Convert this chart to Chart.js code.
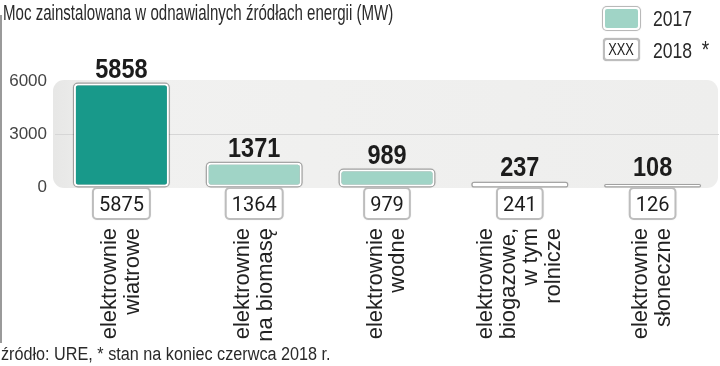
<!DOCTYPE html>
<html>
<head>
<meta charset="utf-8">
<script src="https://cdn.jsdelivr.net/npm/chart.js@4"></script>
<style>
  body { margin: 0; width: 720px; height: 366px; position: relative; overflow: hidden; background: #fff; font-family: "Liberation Sans", sans-serif; color: #2a2a2a; }
  #c { position: absolute; left: 0; top: 0; }
  #frame { position: absolute; left: 0; top: 15px; width: 2px; height: 328px; background: #9a9a9a; }
  .nar { display: inline-block; transform-origin: 0 0; white-space: nowrap; }
  #title { position: absolute; left: 3px; top: 0px; font-size: 22px; line-height: 25px; transform: scaleX(0.685); }
  .leg { position: absolute; left: 603px; height: 23px; white-space: nowrap; }
  .sw { position: absolute; left: 0; top: 0; width: 33px; height: 19px; border: 2px solid #fff; border-radius: 4px; box-shadow: 0 0 0 1px #b9b9b9, 0 0 2px #999; }
  .sw.teal { background: #a0d4c6; }
  .sw.box { background: #fff; border: 2px solid #bdbdbd; box-shadow: 0 0 1px #999; text-align: center; color: #222; }
  .sw.box span { font-size: 16px; line-height: 19px; transform: scaleX(0.8); transform-origin: 50% 0; display: inline-block; }
  .leg .t { position: absolute; left: 50px; top: -1px; font-size: 22px; line-height: 25px; transform: scaleX(0.8); }
  .leg .t .ast { margin-left: 6px; font-size: 24px; }
  #foot { position: absolute; left: 1px; top: 344px; font-size: 18px; line-height: 20px; transform: scaleX(0.9); }
</style>
</head>
<body>
<canvas id="c" width="720" height="366"></canvas>
<div id="frame"></div>
<div id="title" class="nar">Moc zainstalowana w odnawialnych źródłach energii (MW)</div>
<div class="leg" style="top:7px"><span class="sw teal"></span><span class="t nar">2017</span></div>
<div class="leg" style="top:38px"><span class="sw box"><span>XXX</span></span><span class="t nar">2018 <span class="ast">*</span></span></div>
<div id="foot" class="nar">źródło: URE, * stan na koniec czerwca 2018 r.</div>
<script>
// dane
const categories = [
    ['elektrownie', 'wiatrowe'],
    ['elektrownie', 'na biomasę'],
    ['elektrownie', 'wodne'],
    ['elektrownie', 'biogazowe,', 'w tym', 'rolnicze'],
    ['elektrownie', 'słoneczne']
];
const values2017 = [5858, 1371, 989, 237, 108];
const values2018 = [5875, 1364, 979, 241, 126];
const yTicks = [0, 3000, 6000];

// tło obszaru wykresu
const plotBackground = {
    id: 'plotBackground',
    beforeDraw(chart) {
        const { ctx, chartArea: a } = chart;
        ctx.save();
        const g = ctx.createLinearGradient(a.left, 0, a.right, 0);
        g.addColorStop(0, '#e7e7e6');
        g.addColorStop(0.08, '#f1f1f0');
        g.addColorStop(1, '#eeeeed');
        ctx.fillStyle = g;
        ctx.beginPath();
        ctx.roundRect(a.left - 2, a.top - 1, a.right - a.left + 1, a.bottom - a.top + 2, 11);
        ctx.fill();
        ctx.restore();
    }
};

// szara obwódka pod słupkami
const barOutline = {
    id: 'barOutline',
    beforeDatasetsDraw(chart) {
        const ctx = chart.ctx;
        ctx.save();
        ctx.fillStyle = 'rgba(0,0,0,0.28)';
        ctx.shadowColor = 'rgba(0,0,0,0.3)';
        ctx.shadowBlur = 1.5;
        chart.getDatasetMeta(0).data.forEach(bar => {
            const p = bar.getProps(['x', 'y', 'base', 'width'], true);
            ctx.beginPath();
            ctx.roundRect(p.x - p.width / 2 - 1, p.y - 1, p.width + 2, p.base - p.y + 2, 5);
            ctx.fill();
        });
        ctx.restore();
    }
};

// etykiety: wartości 2017, ramki 2018, nazwy kategorii
const valueLabels = {
    id: 'valueLabels',
    afterDraw(chart) {
        const ctx = chart.ctx;
        const meta = chart.getDatasetMeta(0);
        const xScale = chart.scales.x;
        const bottom = chart.chartArea.bottom;
        ctx.save();
        meta.data.forEach((bar, i) => {
            // wartość 2017 nad słupkiem (zwężona)
            ctx.save();
            ctx.font = 'bold 28px "Liberation Sans"';
            ctx.fillStyle = '#1c1c1c';
            ctx.textAlign = 'center';
            ctx.textBaseline = 'alphabetic';
            ctx.translate(bar.x, Math.min(bar.y, bottom - 5) - 6);
            ctx.scale(0.84, 1);
            ctx.fillText(String(values2017[i]), 0, 0);
            ctx.restore();

            // ramka z wartością 2018
            ctx.font = '20px Roboto';
            ctx.textAlign = 'center';
            const txt = String(values2018[i]);
            const w = ctx.measureText(txt).width + 12;
            const h = 31;
            const top = bottom + 1;
            ctx.beginPath();
            ctx.roundRect(bar.x - w / 2, top, w, h, 4);
            ctx.fillStyle = '#fff';
            ctx.shadowColor = 'rgba(0,0,0,0.3)';
            ctx.shadowBlur = 2;
            ctx.fill();
            ctx.shadowBlur = 0;
            ctx.shadowColor = 'transparent';
            ctx.lineWidth = 2;
            ctx.strokeStyle = '#bdbdbd';
            ctx.stroke();
            ctx.fillStyle = '#1c1c1c';
            ctx.fillText(txt, bar.x, top + 23);
        });

        // nazwy kategorii, obrócone
        ctx.font = '22px "Liberation Sans"';
        ctx.fillStyle = '#222';
        const lh = 22.5;
        categories.forEach((lines, i) => {
            const x = xScale.getPixelForValue(i);
            lines.forEach((line, j) => {
                const cx = x - (lines.length - 1) / 2 * lh + j * lh;
                ctx.save();
                ctx.translate(cx, 228);
                ctx.rotate(-Math.PI / 2);
                ctx.textAlign = 'right';
                ctx.textBaseline = 'middle';
                ctx.fillText(line, 0, 0);
                ctx.restore();
            });
        });
        ctx.restore();
    }
};

const ctx = document.getElementById('c').getContext('2d');
new Chart(ctx, {
    type: 'bar',
    data: {
        labels: categories,
        datasets: [{
            label: '2017',
            data: values2017,
            backgroundColor: values2017.map((v, i) => i === 0 ? '#18998a' : '#a0d4c6'),
            borderColor: '#ffffff',
            borderWidth: 2,
            borderRadius: 4,
            borderSkipped: false,
            barPercentage: 0.715,
            categoryPercentage: 1
        }]
    },
    options: {
        responsive: false,
        animation: false,
        layout: { padding: { top: 81, right: 1, left: 0, bottom: 0 } },
        plugins: { legend: { display: false }, tooltip: { enabled: false } },
        scales: {
            x: {
                grid: { display: false },
                border: { display: false },
                ticks: { display: false },
                afterFit(s) { s.height = 179; }
            },
            y: {
                min: 0,
                max: 6000,
                afterBuildTicks(s) { s.ticks = yTicks.map(v => ({ value: v })); },
                grid: {
                    drawTicks: false,
                    color: c => c.tick && c.tick.value === 3000 ? '#d6d6d6' : 'rgba(0,0,0,0)'
                },
                border: { display: false },
                ticks: {
                    padding: 8,
                    color: '#444',
                    font: { family: 'Liberation Sans', size: 17 },
                    callback: v => String(v)
                },
                afterFit(s) { s.width = 55; }
            }
        }
    },
    plugins: [plotBackground, barOutline, valueLabels]
});
</script>
</body>
</html>
